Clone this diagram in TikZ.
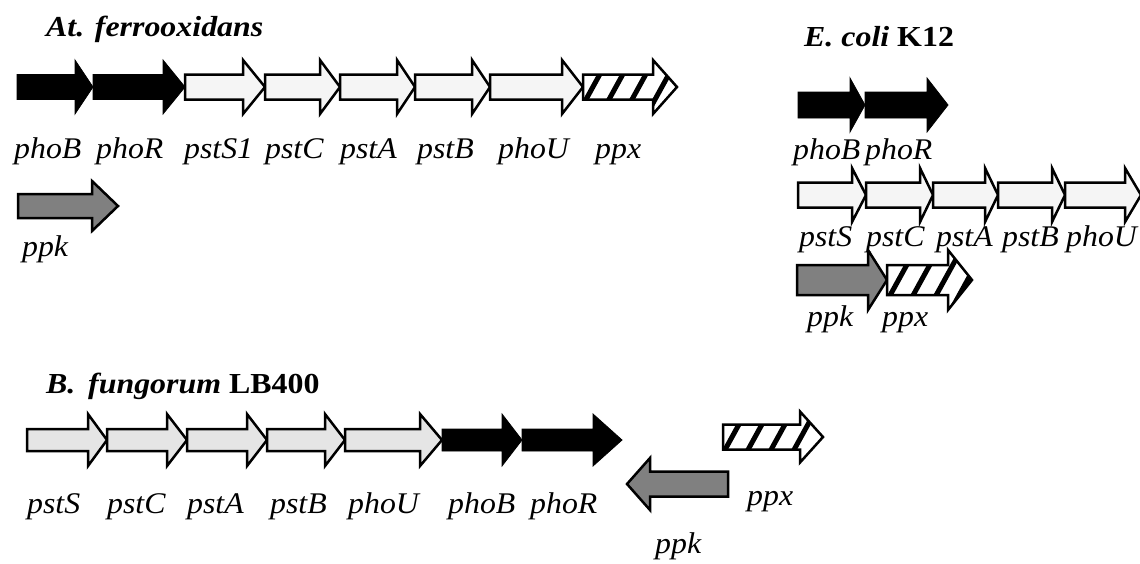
\documentclass[tikz,border=0pt]{standalone}
\usepackage{fontspec}
\setmainfont{Liberation Serif}
\newcommand{\lab}[1]{\scalebox{1.06}[1]{\itshape #1}}
\newcommand{\ttlx}[1]{\scalebox{1.1}[1]{#1}}
% gene arrow: style, tail x, head-base x, tip x, centre y, shaft half, head half
\newcommand{\gene}[7]{\draw[#1] (#2,#5-#6) -- (#3,#5-#6) -- (#3,#5-#7) -- (#4,#5) -- (#3,#5+#7) -- (#3,#5+#6) -- (#2,#5+#6) -- cycle;}
% hatched gene arrow: tail, head-base, tip, centre y, shaft half, head half
\newcommand{\hatchgene}[6]{%
  \fill[white] (#1,#4-#5) -- (#2,#4-#5) -- (#2,#4-#6) -- (#3,#4) -- (#2,#4+#6) -- (#2,#4+#5) -- (#1,#4+#5) -- cycle;
  \begin{scope}
    \clip (#1,#4-#5) -- (#2,#4-#5) -- (#2,#4-#6) -- (#3,#4) -- (#2,#4+#6) -- (#2,#4+#5) -- (#1,#4+#5) -- cycle;
    \foreach \s in {-28,-5,...,120} \draw[stripe] (#1+\s,#4+#6) -- (#1+\s+1.1*#6,#4-#6);
  \end{scope}
  \draw[ppxo] (#1,#4-#5) -- (#2,#4-#5) -- (#2,#4-#6) -- (#3,#4) -- (#2,#4+#6) -- (#2,#4+#5) -- (#1,#4+#5) -- cycle;}
\begin{document}
\begin{tikzpicture}[x=1pt,y=-1pt,
  blk/.style={fill=black,draw=black,line width=0.8pt,line join=miter},
  pst/.style={fill=black!4,draw=black,line width=2.5pt,line join=miter},
  pstb/.style={fill=black!10,draw=black,line width=2.5pt,line join=miter},
  ppkf/.style={fill=black!50,draw=black,line width=2.5pt,line join=miter},
  ppxo/.style={draw=black,line width=2.5pt,line join=miter},
  stripe/.style={line width=5pt,black},
  lab/.style={anchor=base west,inner sep=0pt,font=\fontsize{30}{32}\selectfont},
  ttl/.style={anchor=base west,inner sep=0pt,font=\fontsize{29}{32}\selectfont\bfseries}]
\useasboundingbox[fill=white] (0,0) rectangle (1140,563);

% ---------- At. ferrooxidans ----------
\node[ttl] (tA) at (46,36) {\ttlx{\itshape At. ferrooxidans}};
\gene{blk}{17}{75}{93}{87}{12.5}{27}
\gene{blk}{93}{163}{185}{87}{12.5}{27}
\gene{pst}{185}{243}{265}{87}{12.5}{27}
\gene{pst}{265}{320}{340}{87}{12.5}{27}
\gene{pst}{340}{397}{415}{87}{12.5}{27}
\gene{pst}{415}{472}{490}{87}{12.5}{27}
\gene{pst}{490}{562}{583}{87}{12.5}{27}
\hatchgene{583}{653}{677}{87}{12.5}{27}
\gene{ppkf}{18}{92}{118}{206}{12}{25}
\node[lab] (a1) at (14,158) {\lab{phoB}};
\node[lab] (a2) at (96,158) {\lab{phoR}};
\node[lab] (a3) at (184,158) {\lab{pstS1}};
\node[lab] (a4) at (265,158) {\lab{pstC}};
\node[lab] (a5) at (340,158) {\lab{pstA}};
\node[lab] (a6) at (417,158) {\lab{pstB}};
\node[lab] (a7) at (498,158) {\lab{phoU}};
\node[lab] (a8) at (595,158) {\lab{ppx}};
\node[lab] (a9) at (22,256) {\lab{ppk}};

% ---------- E. coli K12 ----------
\node[ttl] (tE) at (804,46) {\ttlx{\itshape E. coli \upshape K12}};
\gene{blk}{798}{850}{865}{105}{13}{27}
\gene{blk}{865}{927}{948}{105}{13}{27}
\gene{pst}{798}{852}{866}{195}{12.5}{27}
\gene{pst}{866}{920}{933}{195}{12.5}{27}
\gene{pst}{933}{985}{998}{195}{12.5}{27}
\gene{pst}{998}{1052}{1065}{195}{12.5}{27}
\gene{pst}{1065}{1125}{1141}{195}{12.5}{27}
\gene{ppkf}{797}{868}{887}{280}{15}{30}
\hatchgene{887}{948}{972}{280}{15}{30}
\node[lab] (e1) at (793,159) {\lab{phoB}};
\node[lab] (e2) at (865,159) {\lab{phoR}};
\node[lab] (e3) at (799,246) {\lab{pstS}};
\node[lab] (e4) at (866,246) {\lab{pstC}};
\node[lab] (e5) at (936,246) {\lab{pstA}};
\node[lab] (e6) at (1002,246) {\lab{pstB}};
\node[lab] (e7) at (1066,246) {\lab{phoU}};
\node[lab] (e8) at (807,326) {\lab{ppk}};
\node[lab] (e9) at (882,326) {\lab{ppx}};

% ---------- B. fungorum LB400 ----------
\node[ttl] (tB) at (46,393) {\ttlx{\itshape B.\hspace{0.4em}fungorum \upshape LB400}};
\gene{pstb}{27}{88}{107}{440}{11}{26}
\gene{pstb}{107}{167}{187}{440}{11}{26}
\gene{pstb}{187}{247}{267}{440}{11}{26}
\gene{pstb}{267}{325}{345}{440}{11}{26}
\gene{pstb}{345}{420}{442}{440}{11}{26}
\gene{blk}{442}{502}{522}{440}{11}{26}
\gene{blk}{522}{593}{622}{440}{11}{26}
\hatchgene{723}{800}{823}{437}{12.5}{25.5}
\gene{ppkf}{728}{650}{627}{484}{12.5}{26}
\node[lab] (b1) at (27,513) {\lab{pstS}};
\node[lab] (b2) at (107,513) {\lab{pstC}};
\node[lab] (b3) at (187,513) {\lab{pstA}};
\node[lab] (b4) at (270,513) {\lab{pstB}};
\node[lab] (b5) at (348,513) {\lab{phoU}};
\node[lab] (b6) at (448,513) {\lab{phoB}};
\node[lab] (b7) at (530,513) {\lab{phoR}};
\node[lab] (b8) at (747,505) {\lab{ppx}};
\node[lab] (b9) at (655,553) {\lab{ppk}};
\end{tikzpicture}
\end{document}
